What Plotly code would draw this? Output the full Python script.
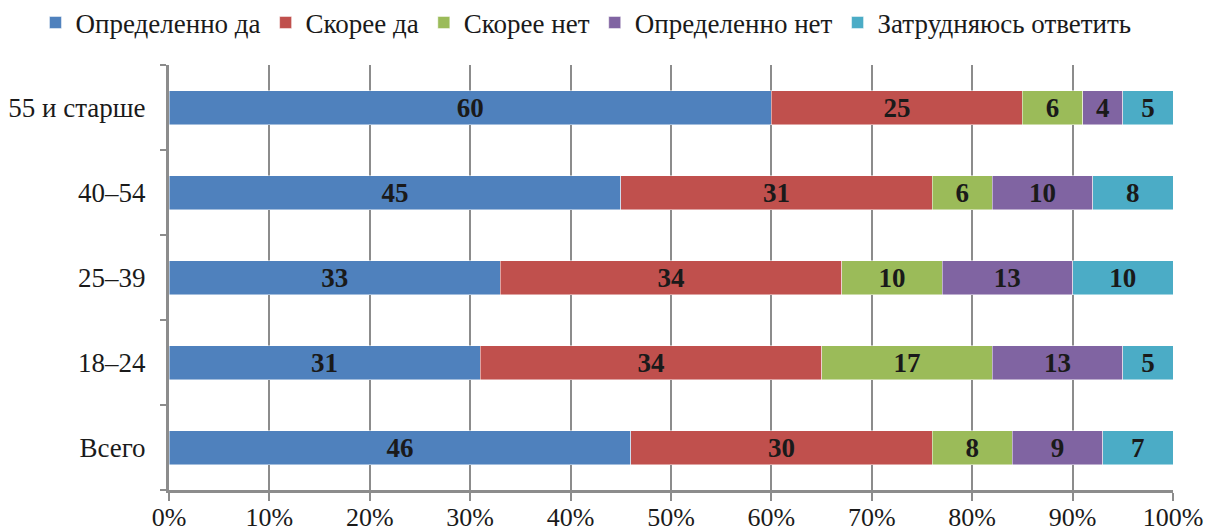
import plotly.graph_objects as go

categories = ["55 и старше", "40–54", "25–39", "18–24", "Всего"]
series_names = ["Определенно да", "Скорее да", "Скорее нет", "Определенно нет", "Затрудняюсь ответить"]
definitely_yes = [60, 45, 33, 31, 46]
rather_yes = [25, 31, 34, 34, 30]
rather_no = [6, 6, 10, 17, 8]
definitely_no = [4, 10, 13, 13, 9]
hard_to_say = [5, 8, 10, 5, 7]
colors = ["#4F81BD", "#C0504D", "#9BBB59", "#8064A2", "#4BACC6"]
x_ticks = list(range(0, 101, 10))

series_values = [definitely_yes, rather_yes, rather_no, definitely_no, hard_to_say]

FONT = "Liberation Serif"
fig = go.Figure()
for name, vals, col in zip(series_names, series_values, colors):
    fig.add_trace(go.Bar(
        y=categories, x=vals, name=name, orientation="h",
        marker=dict(color=col, line=dict(color="rgba(255,255,255,0.6)", width=0.8)),
        text=vals, textposition="inside", insidetextanchor="middle",
        textfont=dict(family=FONT, size=27, color="#1a1a1a", weight="bold"),
        textangle=0, constraintext="none",
    ))

fig.update_layout(
    barmode="stack", bargap=0.6,
    width=1206, height=532,
    margin=dict(l=169, r=33, t=65, b=42, autoexpand=False),
    plot_bgcolor="white", paper_bgcolor="white",
    font=dict(family=FONT, size=27, color="#1a1a1a"),
    showlegend=True,
    legend=dict(orientation="h", x=-0.133, xref="paper", xanchor="left",
                y=1.099, yref="paper", yanchor="middle",
                font=dict(family=FONT, size=27, color="#1a1a1a"),
                itemwidth=30, tracegroupgap=0, traceorder="normal"),
    uniformtext=dict(mode=False),
)
fig.update_xaxes(
    range=[0, 100], tickvals=x_ticks, ticktext=[f"{v}%" for v in x_ticks],
    showgrid=True, gridcolor="#8c8c8c", gridwidth=2,
    showline=True, linecolor="#8c8c8c", linewidth=3,
    ticks="outside", ticklen=8, tickwidth=2, tickcolor="#8c8c8c",
    ticklabelstandoff=-6, zeroline=False, automargin=False,
    tickfont=dict(family=FONT, size=26, color="#1a1a1a"),
)
fig.update_yaxes(
    categoryorder="array", categoryarray=categories[::-1],
    showline=True, linecolor="#8c8c8c", linewidth=3,
    ticks="outside", ticklen=6, tickwidth=2, tickcolor="#8c8c8c",
    tickson="boundaries", showgrid=False, ticklabelstandoff=15, automargin=False,
    tickfont=dict(family=FONT, size=27, color="#1a1a1a"),
)
fig.write_html("out.html", config={"displayModeBar": False},
               post_script="document.body.style.margin='0';document.body.style.overflow='hidden';")
